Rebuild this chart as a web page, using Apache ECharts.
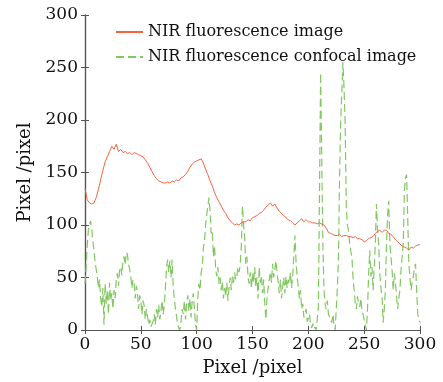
<!DOCTYPE html>
<html>
<head>
<meta charset="utf-8">
<script src="https://cdn.jsdelivr.net/npm/echarts@6/dist/echarts.min.js"></script>
<style>html,body{margin:0;padding:0;background:#fff}#c{width:443px;height:382px}</style>
</head>
<body>
<div id="c"></div>
<script>
// Red: NIR fluorescence image, sampled every 2 px (x = 0,2,...,300)
const redStep = 2;
const redValues = [135,124,121,120,121,126,134,143,152,160,165,170,175,172,177,170,172,169,170,168,169,167,169,168,167,166,165,162,159,155,151,147,144,142,141,140,140,141,140,142,141,143,142,145,146,148,151,155,158,160,161,162,163,159,153,148,142,137,131,126,122,118,114,111,107,104,102,100,101,100,102,103,103,105,104,107,108,109,111,112,114,117,119,121,118,120,116,113,111,109,107,105,104,102,100,102,104,106,103,105,103,103,102,102,101,102,101,100,97,93,92,91,90,90,91,89,90,90,89,89,88,89,87,87,86,84,85,87,88,89,92,94,95,93,95,95,92,91,89,86,84,82,80,79,78,76,79,78,80,81,81];
// Green: NIR fluorescence confocal image, every 1 px (x = 0..300)
const greenValues = [44,60,80,95,100,104,96,85,76,65,58,51,40,48,30,22,40,5,44,25,38,15,45,28,35,20,38,30,48,54,42,58,60,52,66,70,62,74,72,62,58,51,40,48,44,30,42,35,20,33,29,15,28,23,10,20,13,5,10,3,2,8,15,5,20,12,24,10,18,28,15,24,40,60,67,55,66,50,67,41,30,20,13,5,2,0,8,20,15,28,10,25,33,18,30,12,28,35,20,5,0,30,44,38,55,60,78,85,100,110,118,126,113,92,95,70,80,58,51,60,44,50,38,46,30,40,32,45,28,41,50,38,51,45,55,48,51,60,55,62,80,118,100,88,63,70,50,44,55,40,54,45,60,41,50,30,60,45,52,35,48,25,10,30,40,48,55,45,63,50,58,66,55,45,35,48,30,41,50,35,51,40,48,44,55,40,51,70,90,65,50,41,30,38,20,25,12,13,20,8,7,15,4,2,6,1,3,0,10,22,132,245,164,82,38,25,20,28,15,15,10,7,15,5,0,20,40,70,148,200,226,255,230,195,117,100,95,82,75,70,50,38,26,20,32,25,22,30,18,15,10,4,0,20,54,76,51,60,38,60,82,120,95,82,54,40,32,7,20,38,82,110,123,82,70,57,38,54,45,32,20,30,38,57,70,82,132,145,148,107,63,50,38,45,51,60,63,38,15,10,7];
const xTicks = [0,50,100,150,200,250,300];
const yTicks = [0,50,100,150,200,250,300];

const redData = redValues.map((v,i)=>[i*redStep, v]);
const greenData = greenValues.map((v,i)=>[i, v]);

const FONT = 'DejaVu Serif';
const axisCol = '#555';
const chart = echarts.init(document.getElementById('c'), null, {renderer:'canvas'});
const baseAxis = {
  type:'value', min:xTicks[0], max:xTicks[xTicks.length-1], interval:xTicks[1]-xTicks[0],
  axisLine:{show:true, lineStyle:{color:axisCol, width:1.2}},
  axisTick:{show:true, inside:true, length:4, lineStyle:{color:axisCol}},
  splitLine:{show:false}
};
chart.setOption({
  animation:false,
  grid:{left:85, right:23, top:15, bottom:48},
  legend:{
    orient:'vertical', left:110, top:19, itemWidth:27, itemHeight:12, itemGap:9,
    itemStyle:{opacity:0},
    textStyle:{fontFamily:FONT, fontSize:16, color:'#111'},
    data:['NIR fluorescence image','NIR fluorescence confocal image']
  },
  xAxis:[
    Object.assign({}, baseAxis, {position:'bottom',
      name:'Pixel /pixel', nameLocation:'middle', nameGap:29,
      nameTextStyle:{fontFamily:FONT, fontSize:18, color:'#111'},
      axisLabel:{fontFamily:FONT, fontSize:17, color:'#111', margin:6}}),
    Object.assign({}, baseAxis, {position:'top', axisLabel:{show:false}})
  ],
  yAxis:[
    Object.assign({}, baseAxis, {position:'left', min:yTicks[0], max:yTicks[yTicks.length-1], interval:yTicks[1]-yTicks[0],
      name:'Pixel /pixel', nameLocation:'middle', nameGap:50,
      nameTextStyle:{fontFamily:FONT, fontSize:18, color:'#111'},
      axisLabel:{fontFamily:FONT, fontSize:17, color:'#111', margin:7}}),
    Object.assign({}, baseAxis, {position:'right', axisLabel:{show:false}})
  ],
  series:[
    {name:'NIR fluorescence image', type:'line', data:redData, symbol:'none',
     lineStyle:{color:'#f4643f', width:1}, itemStyle:{color:'#f4643f'}, z:3},
    {name:'NIR fluorescence confocal image', type:'line', data:greenData, symbol:'none',
     lineStyle:{color:'#82c862', width:1.2, type:[8,4]}, itemStyle:{color:'#82c862'}, z:2}
  ]
});
</script>
</body>
</html>
